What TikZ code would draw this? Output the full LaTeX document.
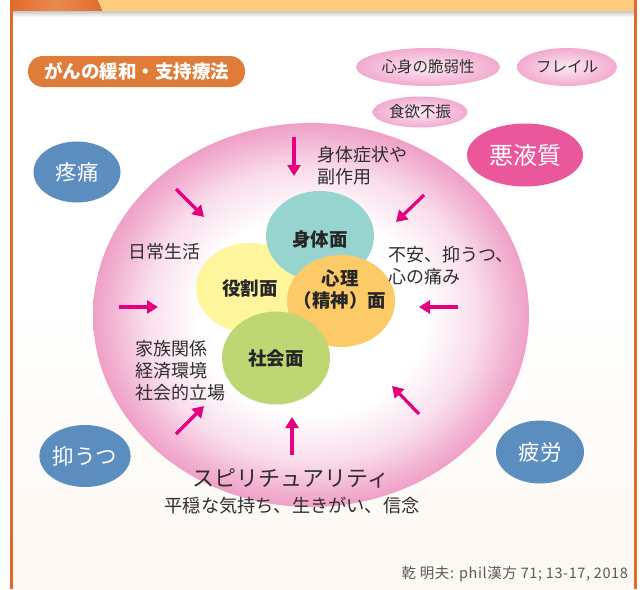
\documentclass[tikz,border=0pt]{standalone}
\usepackage{fontspec}
\setmainfont{Noto Sans CJK JP}
\usetikzlibrary{shapes.geometric,arrows.meta}
\definecolor{frameorange}{HTML}{E2692B}
\definecolor{tabdark}{HTML}{E26B2D}
\definecolor{tablight}{HTML}{EA8A50}
\definecolor{bandlight}{HTML}{FECC7C}
\definecolor{cream}{HTML}{FCF8F2}
\definecolor{titleorange}{HTML}{E07C3A}
\definecolor{ringpink}{HTML}{EFA0C7}
\definecolor{softpinkO}{HTML}{F2AACF}
\definecolor{softpinkI}{HTML}{FCE9F3}
\definecolor{darkpink}{HTML}{EA579B}
\definecolor{bluegray}{HTML}{5B8DBF}
\definecolor{tealc}{HTML}{97D4D0}
\definecolor{yellowc}{HTML}{FEF59D}
\definecolor{orangec}{HTML}{FDCA68}
\definecolor{greenc}{HTML}{BED774}
\definecolor{magentaarrow}{HTML}{E4007F}
\definecolor{txt}{HTML}{2E2E2E}
\definecolor{citegray}{HTML}{5A5A5A}
\pgfdeclareradialshading{bigring}{\pgfpoint{0bp}{0bp}}{%
  color(0bp)=(white); color(13bp)=(white); color(19bp)=(ringpink!35);
  color(23bp)=(ringpink!80); color(25bp)=(ringpink); color(50bp)=(ringpink)}
\tikzset{
  blob/.style={ellipse, inner sep=0pt},
  softblob/.style={blob, inner color=softpinkI, outer color=softpinkO, text=txt,
    font=\fontsize{15.5}{18}\selectfont},
  blueblob/.style={blob, fill=bluegray, text=white, font=\fontsize{21.5}{25}\selectfont},
  facet/.style={blob, minimum width=108pt, minimum height=90pt},
  facetlabel/.style={text=black!85, font=\bfseries\fontsize{18.5}{22}\selectfont, align=center, inner sep=0pt},
  lbl/.style={text=txt, font=\fontsize{18}{22}\selectfont, align=left, inner sep=0pt},
  pusharrow/.style={draw=magentaarrow, line width=3.2pt, -{Triangle[width=13pt,length=11pt]}}
}
\begin{document}
\begin{tikzpicture}[x=1pt,y=-1pt]
\useasboundingbox (0,0) rectangle (644,589);
% background
\fill[white] (0,0) rectangle (644,589);
\fill[top color=white, bottom color=cream] (12,300) rectangle (635,589);
% top band
\fill[bandlight] (12,0) rectangle (634,11);
\fill[left color=tabdark, right color=tabdark, middle color=tablight] (12,0) -- (97,0) -- (102,11) -- (12,11) -- cycle;
\fill[top color=black!22, bottom color=white] (13,11) rectangle (634,17);
% frame lines
\fill[frameorange] (10,0) rectangle (13,589);
\fill[frameorange] (634,0) rectangle (637,589);

% title pill
\node[fill=titleorange, rounded corners=15pt, minimum width=217pt, minimum height=31pt,
  text=white, font=\bfseries\fontsize{18.5}{21}\selectfont, inner sep=0pt] (title) at (136.5,71.5) {がんの緩和・支持療法};

% outer factors
\node[softblob, minimum width=144pt, minimum height=38pt] (frail1) at (428,67) {心身の脆弱性};
\node[softblob, minimum width=100pt, minimum height=38pt] (frail2) at (567,67) {フレイル};
\node[softblob, minimum width=95pt, minimum height=31pt] (appetite) at (420,112) {食欲不振};
\node[blob, fill=darkpink, text=white, minimum width=116pt, minimum height=63pt,
  font=\fontsize{24}{28}\selectfont] (cachexia) at (525,155) {悪液質};
\node[blueblob, minimum width=87pt, minimum height=61pt] (pain) at (77,172) {疼痛};
\node[blueblob, minimum width=90pt, minimum height=62pt] (depress) at (85,456) {抑うつ};
\node[blueblob, minimum width=88pt, minimum height=63pt] (fatigue) at (540,452) {疲労};

% big ring
\node[blob, minimum width=436pt, minimum height=384pt, shading=bigring] (ring) at (311,315) {};

% facets
\node[facet, fill=yellowc] (role) at (250,288) {};
\node[facet, fill=tealc] (body) at (320,236) {};
\node[facet, fill=orangec, minimum height=92pt] (mind) at (341,301) {};
\node[facet, fill=greenc, minimum height=93pt] (social) at (276,358) {};
\node[facetlabel] (roleL) at (250,289) {役割面};
\node[facetlabel] (bodyL) at (320,239) {身体面};
\node[facetlabel] (mindL) at (340,290) {心理\\（精神）面};
\node[facetlabel] (socialL) at (276,358) {社会面};

% labels
\node[lbl] (symptom) at (362,166) {身体症状や\\副作用};
\node[lbl] (daily) at (164,252) {日常生活};
\node[lbl] (anxiety) at (451,266) {不安、抑うつ、\\心の痛み};
\node[lbl] (family) at (180,371) {家族関係\\経済環境\\社会的立場};
\node[lbl, font=\fontsize{22}{26}\selectfont] (spirit) at (291,478) {スピリチュアリティ};
\node[lbl, font=\fontsize{18.2}{22}\selectfont] (peace) at (292,506) {平穏な気持ち、生きがい、信念};
\node[text=citegray, font=\fontsize{14.5}{17}\selectfont\addfontfeatures{LetterSpace=4}, inner sep=0pt, anchor=east] (cite) at (628,574) {乾 明夫: phil漢方 71; 13-17, 2018};

% arrows
\coordinate (a1s) at (294,137); \coordinate (a1e) at (294,176);
\coordinate (a2s) at (176,189); \coordinate (a2e) at (204,217);
\coordinate (a3s) at (424,195); \coordinate (a3e) at (396,222);
\coordinate (a4s) at (119,307); \coordinate (a4e) at (158,307);
\coordinate (a5s) at (458,307); \coordinate (a5e) at (419,307);
\coordinate (a6s) at (176,434); \coordinate (a6e) at (204,406);
\coordinate (a7s) at (419,414); \coordinate (a7e) at (392,386);
\coordinate (a8s) at (292,455); \coordinate (a8e) at (292,417);
\draw[pusharrow] (a1s) -- (a1e);
\draw[pusharrow] (a2s) -- (a2e);
\draw[pusharrow] (a3s) -- (a3e);
\draw[pusharrow] (a4s) -- (a4e);
\draw[pusharrow] (a5s) -- (a5e);
\draw[pusharrow] (a6s) -- (a6e);
\draw[pusharrow] (a7s) -- (a7e);
\draw[pusharrow] (a8s) -- (a8e);
\end{tikzpicture}
\end{document}
